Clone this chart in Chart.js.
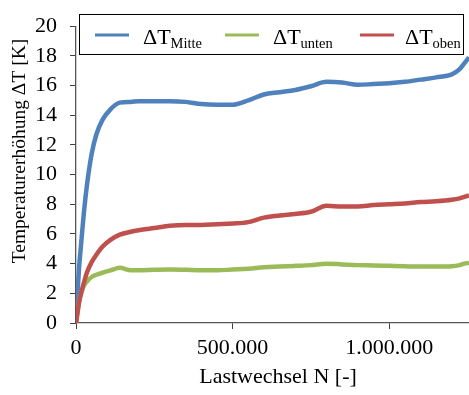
<!DOCTYPE html>
<html>
<head>
<meta charset="utf-8">
<script src="https://cdn.jsdelivr.net/npm/chart.js@4/dist/chart.umd.min.js"></script>
<style>
html,body{margin:0;padding:0;background:#fff;}
#wrap{width:469px;height:395px;position:relative;}
</style>
</head>
<body>
<div id="wrap"><canvas id="c" width="469" height="395"></canvas></div>
<script>
// ---- data ----
const cycles = [0, 5000, 10000, 15000, 25000, 35000, 50000, 65000, 85000, 110000, 140000, 175000, 200000, 250000, 300000, 350000, 400000, 450000, 500000, 550000, 600000, 650000, 700000, 750000, 800000, 850000, 900000, 950000, 1000000, 1050000, 1100000, 1150000, 1200000, 1225000, 1240000, 1255000];
const dTMitte = [0, 2.1, 3.8, 5.0, 7.4, 9.3, 11.4, 12.7, 13.7, 14.4, 14.85, 14.9, 14.95, 14.95, 14.95, 14.9, 14.75, 14.7, 14.7, 15.0, 15.4, 15.55, 15.7, 15.95, 16.25, 16.2, 16.05, 16.1, 16.15, 16.25, 16.4, 16.55, 16.75, 17.1, 17.5, 17.9];
const dTUnten = [0, 0.8, 1.5, 1.9, 2.5, 2.8, 3.1, 3.25, 3.4, 3.55, 3.72, 3.55, 3.55, 3.58, 3.6, 3.58, 3.55, 3.55, 3.6, 3.65, 3.75, 3.8, 3.85, 3.9, 4.0, 3.95, 3.9, 3.88, 3.85, 3.82, 3.8, 3.8, 3.82, 3.9, 4.0, 4.05];
const dTOben = [0, 0.7, 1.4, 1.9, 2.7, 3.4, 4.1, 4.6, 5.15, 5.6, 5.95, 6.15, 6.25, 6.4, 6.55, 6.6, 6.6, 6.65, 6.7, 6.8, 7.1, 7.25, 7.35, 7.5, 7.9, 7.85, 7.85, 7.95, 8.0, 8.05, 8.15, 8.2, 8.3, 8.4, 8.5, 8.6];
const seriesSubs = ['Mitte', 'unten', 'oben'];
const xTickValues = [0, 500000, 1000000];
const yTickValues = [0, 2, 4, 6, 8, 10, 12, 14, 16, 18, 20];
const xTitle = 'Lastwechsel N [-]';
const yTitle = 'Temperaturerhöhung ΔT [K]';

const colors = ['#4F81BD', '#9BBB59', '#C0504D'];
const FONT = "Liberation Serif";

Chart.defaults.font.family = FONT;
Chart.defaults.font.size = 22;
Chart.defaults.color = '#000';

function pts(ys){ return cycles.map((x,i)=>({x:x, y:ys[i]})); }
function fmt(v){ return String(v).replace(/\B(?=(\d{3})+(?!\d))/g, '.'); }

const seriesData = [dTMitte, dTUnten, dTOben];
const orders = [2, 1, 0];
const datasets = seriesData.map((d,i)=>({
  label: 'ΔT' + seriesSubs[i],
  data: pts(d),
  borderColor: colors[i],
  backgroundColor: colors[i],
  borderWidth: 4.5,
  pointRadius: 0,
  cubicInterpolationMode: 'monotone',
  fill: false,
  order: orders[i]
}));

const customDraw = {
  id: 'customDraw',
  afterDatasetsDraw(chart){
    const ctx = chart.ctx;
    ctx.save();
    // legend box
    ctx.fillStyle = '#fff';
    ctx.fillRect(79.5, 14.5, 384, 40);
    ctx.strokeStyle = '#000';
    ctx.lineWidth = 1;
    ctx.strokeRect(79.5, 14.5, 384, 40);
    const lineX = [95, 225, 360];
    const textX = [143, 273, 405];
    for (let i = 0; i < 3; i++) {
      ctx.strokeStyle = colors[i];
      ctx.lineWidth = 3;
      ctx.beginPath();
      ctx.moveTo(lineX[i], 35);
      ctx.lineTo(lineX[i] + 34, 35);
      ctx.stroke();
      ctx.fillStyle = '#000';
      ctx.textAlign = 'left';
      ctx.textBaseline = 'alphabetic';
      ctx.font = '22px ' + FONT;
      ctx.fillText('ΔT', textX[i], 44);
      const w = ctx.measureText('ΔT').width;
      ctx.font = '14.5px ' + FONT;
      ctx.fillText(seriesSubs[i], textX[i] + w, 48);
    }
    // axis titles
    ctx.fillStyle = '#000';
    ctx.font = '22px ' + FONT;
    ctx.textAlign = 'center';
    ctx.textBaseline = 'alphabetic';
    ctx.fillText(xTitle, 278, 383);
    ctx.translate(25, 151);
    ctx.rotate(-Math.PI/2);
    ctx.font = '19.5px ' + FONT;
    ctx.fillText(yTitle, 0, 0);
    ctx.restore();
  }
};

new Chart(document.getElementById('c'), {
  type: 'line',
  data: { datasets: datasets },
  options: {
    responsive: false,
    animation: false,
    events: [],
    layout: { padding: { top: 15, right: 0, left: 0, bottom: 0 } },
    plugins: { legend: { display: false }, tooltip: { enabled: false } },
    scales: {
      x: {
        type: 'linear',
        min: 0,
        max: 1255000,
        afterBuildTicks(scale){ scale.ticks = xTickValues.map(v=>({value:v})); },
        afterFit(scale){ scale.height = 72; },
        grid: { drawOnChartArea: false, drawTicks: true, tickLength: 6, tickColor: '#404040', tickWidth: 1 },
        border: { color: '#555', width: 1.3 },
        ticks: { color: '#000', font: { family: FONT, size: 22 }, padding: 6, maxRotation: 0, callback: v => fmt(v) },
        title: { display: false }
      },
      y: {
        min: 0,
        max: 20,
        afterBuildTicks(scale){ scale.ticks = yTickValues.map(v=>({value:v})); },
        afterFit(scale){ scale.width = 76; },
        grid: { drawOnChartArea: false, drawTicks: true, tickLength: 6, tickColor: '#404040', tickWidth: 1 },
        border: { color: '#555', width: 1.3 },
        ticks: { color: '#000', font: { family: FONT, size: 22 }, padding: 13 },
        title: { display: false }
      }
    }
  },
  plugins: [customDraw]
});
</script>
</body>
</html>
